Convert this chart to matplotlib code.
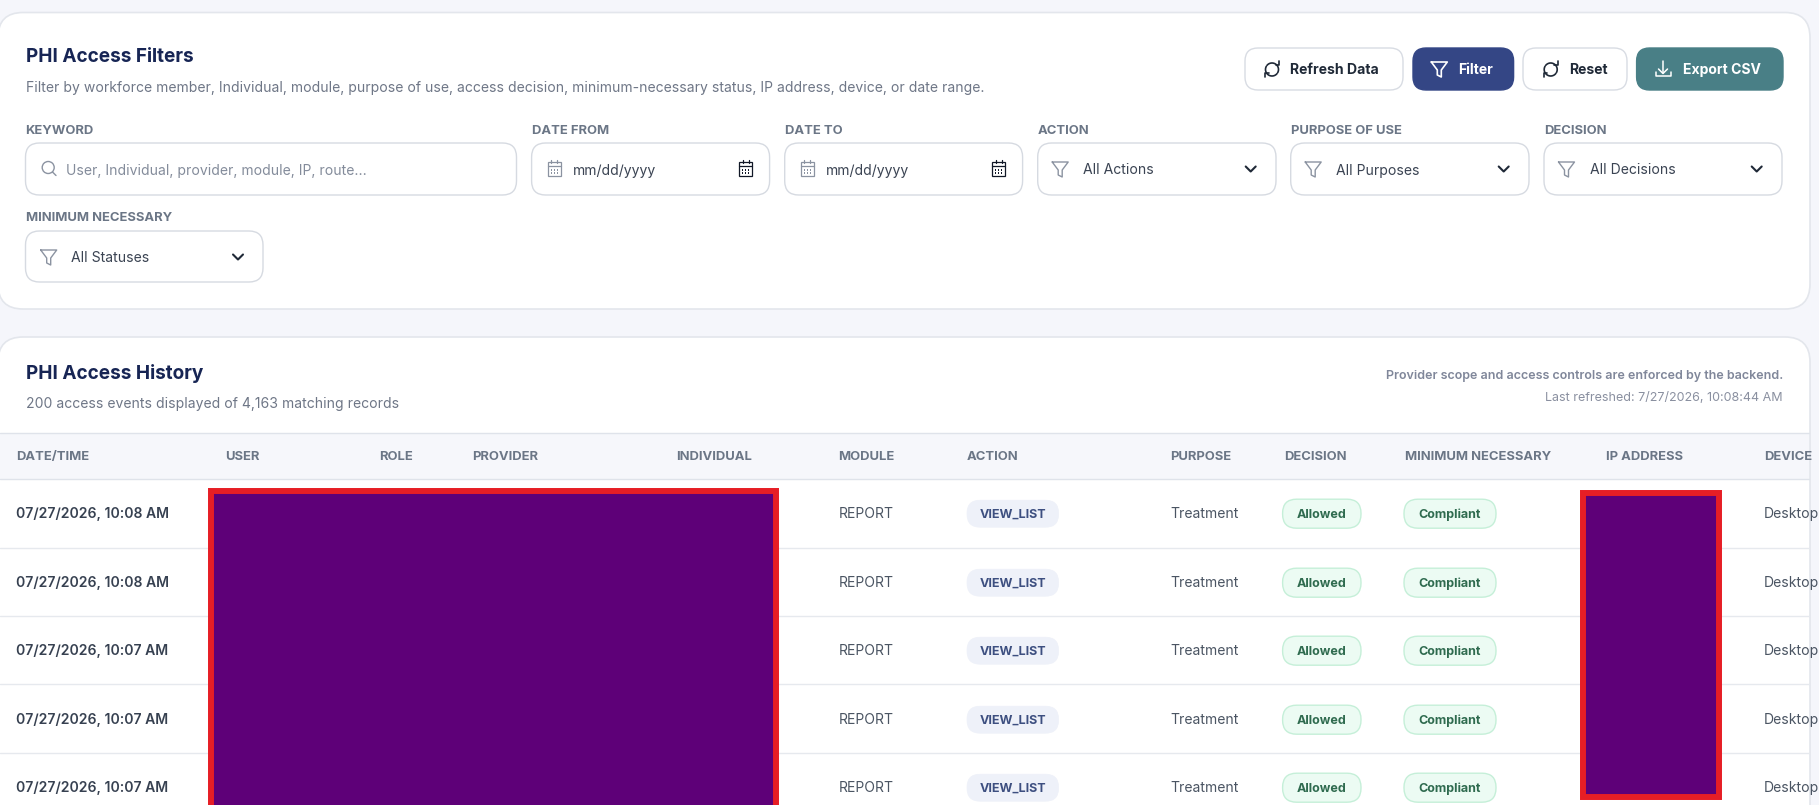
# -*- coding: utf-8 -*-
"""
PHI access audit screen: filter card on top, history table below.
Everything is laid out in screenshot pixels, y pointing down.
"""

import numpy as np
import matplotlib
matplotlib.use('Agg')
import matplotlib.pyplot as plt
from matplotlib.patches import FancyBboxPatch, Rectangle, Circle

plt.rcParams['font.family'] = ['Inter', 'DejaVu Sans']

W, H = 1819, 805

# text content
filters_title = 'PHI Access Filters'
filters_sub = ('Filter by workforce member, Individual, module, purpose of use, access decision, '
               'minimum-necessary status, IP address, device, or date range.')
history_title = 'PHI Access History'
history_sub = '200 access events displayed of 4,163 matching records'
note_scope = 'Provider scope and access controls are enforced by the backend.'
note_refresh = 'Last refreshed: 7/27/2026, 10:08:44 AM'

button_labels = ['Refresh Data', 'Filter', 'Reset', 'Export CSV']
select_labels = ['ACTION', 'PURPOSE OF USE', 'DECISION']
select_values = ['All Actions', 'All Purposes', 'All Decisions']
date_labels = ['DATE FROM', 'DATE TO']
date_placeholder = 'mm/dd/yyyy'
keyword_placeholder = 'User, Individual, provider, module, IP, route...'

# table
columns = ['DATE/TIME', 'USER', 'ROLE', 'PROVIDER', 'INDIVIDUAL', 'MODULE', 'ACTION',
           'PURPOSE', 'DECISION', 'MINIMUM NECESSARY', 'IP ADDRESS', 'DEVICE']
times = ['07/27/2026, 10:08 AM', '07/27/2026, 10:08 AM', '07/27/2026, 10:07 AM',
         '07/27/2026, 10:07 AM', '07/27/2026, 10:07 AM']
modules = ['REPORT'] * 5
actions = ['VIEW_LIST'] * 5
purposes = ['Treatment'] * 5
decisions = ['Allowed'] * 5
minimums = ['Compliant'] * 5
devices = ['Desktop'] * 5

# layout, pixels
col_x = [16, 225, 379.6, 472.4, 676, 838.6, 967, 1170.6, 1283.8, 1404.5, 1606, 1764]
row_y = [513.7, 582.7, 650.7, 719.7, 787.7]
row_lines = [547.7, 616, 684, 753]

INK = '#172554'
LABEL = '#6b7686'
MUTED = '#6f7787'
LINE = '#dfe3ea'
ICON = '#8b93a1'


def px(size):
    return size * 0.72


fig = plt.figure(figsize=(W / 100, H / 100), dpi=100, facecolor='#f5f6fb')
ax = fig.add_axes([0, 0, 1, 1])
ax.set_xlim(0, W)
ax.set_ylim(H, 0)
ax.axis('off')


def rbox(x0, y0, x1, y1, r, fc, ec, lw=1.0, z=2):
    p = FancyBboxPatch((x0 + r, y0 + r), x1 - x0 - 2 * r, y1 - y0 - 2 * r,
                       boxstyle='round,pad=%f,rounding_size=%f' % (r, r),
                       fc=fc, ec=ec, lw=lw, zorder=z)
    ax.add_patch(p)
    return p


def label(x, y, s, size, color, weight='normal', ha='left', clip=None):
    t = ax.text(x, y, s, fontsize=px(size), color=color, fontweight=weight, ha=ha,
                va='center', zorder=6)
    if clip is not None:
        t.set_clip_path(clip)
    return t


def stroke(xs, ys, color=ICON, lw=1.0):
    ax.plot(xs, ys, color=color, lw=lw, solid_capstyle='round', solid_joinstyle='round', zorder=6)


def funnel(cx, cy, color=ICON, lw=1.0):
    stroke([cx - 8, cx + 8, cx + 2, cx + 2, cx - 2, cx - 2, cx - 8],
           [cy - 7, cy - 7, cy + 1, cy + 8, cy + 6, cy + 1, cy - 7], color, lw)


def chevron(cx, cy):
    stroke([cx - 5, cx, cx + 5], [cy - 2.5, cy + 2.5, cy - 2.5], '#1f2937', 1.5)


def calendar(cx, cy, color=ICON):
    ax.add_patch(Rectangle((cx - 6.5, cy - 6.5), 13, 14, fc='none', ec=color, lw=0.9, zorder=6))
    stroke([cx - 6.5, cx + 6.5], [cy - 2.5, cy - 2.5], color, 0.9)
    stroke([cx - 3, cx - 3], [cy - 8.5, cy - 5.5], color, 0.9)
    stroke([cx + 3, cx + 3], [cy - 8.5, cy - 5.5], color, 0.9)
    for dx in (-3, 0, 3):
        for dy in (1, 4):
            ax.add_patch(Rectangle((cx + dx - 0.6, cy + dy - 0.6), 1.2, 1.2, fc=color, ec='none', zorder=6))


def refresh(cx, cy, color='#1f2937'):
    a = np.radians(np.linspace(-30, 140, 30))
    stroke(cx + 6.5 * np.cos(a), cy - 6.5 * np.sin(a), color, 1.2)
    a = np.radians(np.linspace(150, 320, 30))
    stroke(cx + 6.5 * np.cos(a), cy - 6.5 * np.sin(a), color, 1.2)
    stroke([cx + 7, cx + 7, cx + 3.5], [cy - 8, cy - 4, cy - 4], color, 1.2)
    stroke([cx - 7, cx - 7, cx - 3.5], [cy + 8, cy + 4, cy + 4], color, 1.2)


# filter card
rbox(-2, 12.5, 1810, 309, 25, 'white', '#e3e6ec', 1.2)
label(25.5, 57, filters_title, 19, INK, 'bold')
label(25.5, 88, filters_sub, 14, MUTED)

# buttons
btn_x = [(1245, 1403), (1413, 1513.6), (1523, 1627), (1636.6, 1783)]
btn_fc = ['white', '#344685', 'white', '#497f86']
btn_ec = ['#d8dce3', '#344685', '#d8dce3', '#497f86']
btn_tc = ['#1f2937', 'white', '#1f2937', 'white']
btn_tx = [1290, 1458.5, 1569, 1682.5]
for (x0, x1), fc, ec, tc, tx, s in zip(btn_x, btn_fc, btn_ec, btn_tc, btn_tx, button_labels):
    rbox(x0, 48, x1, 90, 13, fc, ec, 1.0)
    label(tx, 69.7, s, 14, tc, 'bold')
refresh(1272, 69.5)
funnel(1439.3, 69, 'white', 1.2)
refresh(1550.7, 69.5)
stroke([1663, 1663], [61, 73], 'white', 1.1)
stroke([1658.5, 1663, 1667.5], [69, 73.5, 69], 'white', 1.1)
stroke([1655.5, 1655.5, 1670.5, 1670.5], [72, 76.5, 76.5, 72], 'white', 1.1)

# first row of filter fields
label(25.5, 131, 'KEYWORD', 13, LABEL, 'bold')
rbox(25.5, 143, 516.5, 195, 14, 'white', '#d6dae1', 1.0)
ax.add_patch(Circle((48.2, 167.5), 6, fc='none', ec=ICON, lw=1.0, zorder=6))
stroke([52.5, 56], [172, 175.5])
label(65.6, 170.5, keyword_placeholder, 14, '#848c9b')

date_x = [(531.6, 769.6), (784.7, 1022.6)]
for (x0, x1), s in zip(date_x, date_labels):
    label(x0, 131, s, 13, LABEL, 'bold')
    rbox(x0, 143, x1, 195, 14, 'white', '#d6dae1', 1.0)
    calendar(x0 + 22.5, 169)
    calendar(x1 - 24, 169, '#111827')
    label(x0 + 41.5, 170.5, date_placeholder, 14, '#3b4453')

sel_x = [(1037.7, 1276), (1290.7, 1529), (1544, 1782)]
for (x0, x1), s, v in zip(sel_x, select_labels, select_values):
    label(x0, 131, s, 13, LABEL, 'bold')
    rbox(x0, 143, x1, 195, 14, 'white', '#d6dae1', 1.0)
    funnel(x0 + 22.5, 169)
    label(x0 + 45.5, 170.5, v, 14, '#3b4453')
    chevron(x1 - 25.3, 169)

# minimum necessary sits on its own row
label(25.5, 218, 'MINIMUM NECESSARY', 13, LABEL, 'bold')
rbox(25.5, 231, 263, 282, 14, 'white', '#d6dae1', 1.0)
funnel(48.7, 257)
label(70.8, 258, 'All Statuses', 14, '#3b4453')
chevron(238, 257)

# history card, runs off the bottom
card = rbox(-2, 337, 1810, 860, 25, 'white', '#e3e6ec', 1.2)
label(25.5, 373, history_title, 19, INK, 'bold')
label(25.5, 404, history_sub, 14, MUTED)
label(1783, 375.7, note_scope, 12.5, '#80879a', 'semibold', ha='right')
label(1783, 398, note_refresh, 12.5, '#8a90a0', ha='right')

# table header band and row rules
band = Rectangle((0, 433), 1809, 46, fc='#f6f7fb', ec='none', zorder=3)
ax.add_patch(band)
stroke([0, 1809], [433, 433], LINE, 1.0)
stroke([0, 1809], [479, 479], LINE, 1.0)
for y in row_lines:
    stroke([0, 1809], [y, y], '#e6e9ee', 1.0)

clip = Rectangle((0, 0), 1809, H, transform=ax.transData)
for x, s in zip(col_x, columns):
    label(x, 457, s, 13, LABEL, 'bold', clip=clip)

for i, y in enumerate(row_y):
    label(col_x[0], y, times[i], 14, '#374151', 'semibold')
    label(col_x[5], y, modules[i], 14, '#4b5563')
    label(col_x[7], y, purposes[i], 14, '#4b5563')
    label(col_x[11], y, devices[i], 14, '#4b5563', clip=clip)
    rbox(967, y - 13.5, 1058.6, y + 13.5, 13, '#eef1f9', '#eef1f9', 0.5, z=4)
    label(1012.8, y + 1.3, actions[i], 12.5, '#3d4f80', 'bold', ha='center')
    rbox(1282.6, y - 14.5, 1361, y + 14.5, 14, '#ecfbf3', '#c5efd8', 1.0, z=4)
    label(1321.8, y + 1.3, decisions[i], 12.5, '#2f6b4f', 'bold', ha='center')
    rbox(1404, y - 14.5, 1496, y + 14.5, 14, '#ecfbf3', '#c5efd8', 1.0, z=4)
    label(1450, y + 1.3, minimums[i], 12.5, '#2f6b4f', 'bold', ha='center')

# redaction blocks
ax.add_patch(Rectangle((210.7, 491), 565.5, 320, fc='#5e0078', ec='#e61e25', lw=4.3, zorder=8))
ax.add_patch(Rectangle((1583, 493), 135.5, 304, fc='#5e0078', ec='#e61e25', lw=4.3, zorder=8))

fig.savefig('out.png', dpi=100, facecolor=fig.get_facecolor())
